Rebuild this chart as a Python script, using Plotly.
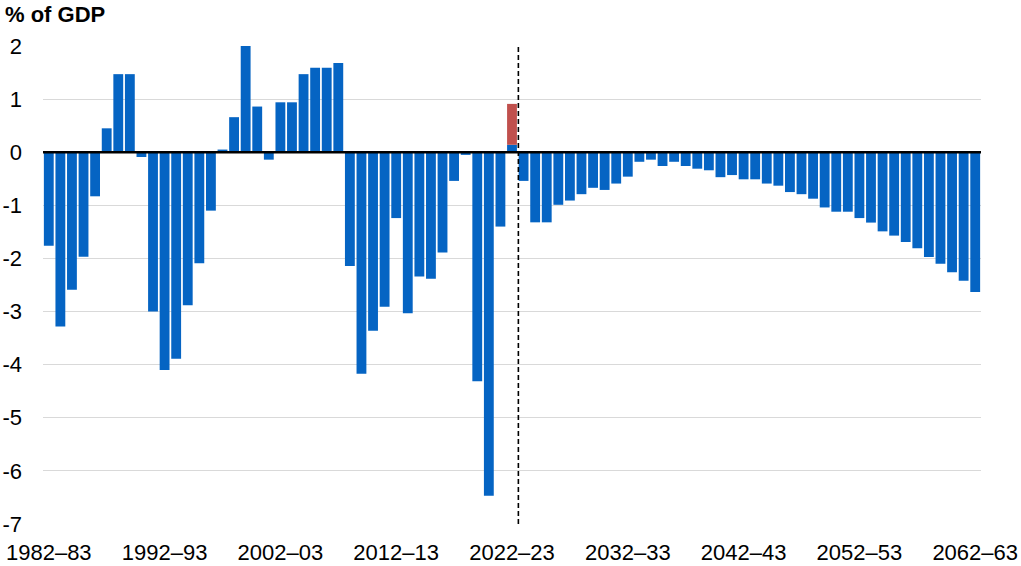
import plotly.graph_objects as go

years = [f"{y}\u2013{str(y + 1)[-2:]}" for y in range(1982, 2063)]

balance = [
    -1.76, -3.28, -2.59, -1.97, -0.83, 0.45, 1.47, 1.47, -0.09, -3.0,
    -4.1, -3.89, -2.88, -2.09, -1.1, 0.05, 0.66, 2.02, 0.86, -0.14,
    0.94, 0.94, 1.47, 1.59, 1.59, 1.68, -2.14, -4.17, -3.36, -2.91,
    -1.24, -3.03, -2.34, -2.38, -1.89, -0.54, -0.05, -4.31, -6.47, -1.4,
    0.14, -0.54, -1.32, -1.32, -0.99, -0.91, -0.79, -0.67, -0.71, -0.59,
    -0.46, -0.18, -0.14, -0.26, -0.18, -0.26, -0.31, -0.34, -0.47, -0.43,
    -0.51, -0.51, -0.59, -0.63, -0.75, -0.79, -0.875, -1.04, -1.12, -1.12,
    -1.24, -1.325, -1.49, -1.57, -1.69, -1.81, -1.975, -2.1, -2.26, -2.42,
    -2.63,
]

extra_year = ["2022\u201323"]
extra_value = [0.77]

tick_labels = ["1982\u201383", "1992\u201393", "2002\u201303", "2012\u201313",
               "2022\u201323", "2032\u201333", "2042\u201343", "2052\u201353", "2062\u201363"]
y_ticks = [2, 1, 0, -1, -2, -3, -4, -5, -6, -7]

BLUE = "#0564C3"
RED = "#C0504D"
FONT = "Liberation Sans, Arial, sans-serif"

fig = go.Figure()
fig.add_trace(go.Bar(x=years, y=balance, marker=dict(color=BLUE, line=dict(width=0)),
                     showlegend=False))
fig.add_trace(go.Bar(x=extra_year, y=extra_value, marker=dict(color=RED, line=dict(width=0)),
                     showlegend=False))

# zero line above bars
fig.add_shape(type="line", xref="paper", yref="y", x0=0, x1=1, y0=0, y1=0,
              line=dict(color="black", width=2.5), layer="above")
# dashed forecast separator
fig.add_shape(type="line", xref="x", yref="y", x0=40.55, x1=40.55, y0=-7, y1=2,
              line=dict(color="black", width=1.6, dash="5px,3px"), layer="above")

fig.update_layout(
    width=1021, height=566,
    margin=dict(l=43, r=40, t=46, b=42, autoexpand=False),
    paper_bgcolor="white", plot_bgcolor="white",
    barmode="relative", bargap=0.15,
    font=dict(family=FONT, size=22, color="black"),
    title=dict(text="<b>% of GDP</b>", xref="container", yref="container",
               x=5 / 1021, y=1 - 14 / 566, xanchor="left", yanchor="middle",
               font=dict(family=FONT, size=22, color="black")),
    xaxis=dict(type="category", categoryorder="array", categoryarray=years,
               tickmode="array", tickvals=tick_labels, ticktext=tick_labels,
               showgrid=False, zeroline=False, showline=False, ticks="",
               range=[-0.5, 80.5], tickfont=dict(size=22), ticklabelstandoff=13,
               automargin=False),
    yaxis=dict(range=[-7, 2], tickmode="array", tickvals=y_ticks,
               ticktext=[str(v) for v in y_ticks],
               showgrid=True, gridcolor="#D9D9D9", gridwidth=1,
               zeroline=False, showline=False, ticks="",
               tickfont=dict(size=22), ticklabelstandoff=20, automargin=False),
)

fig.write_html("out.html", config={"displayModeBar": False},
               post_script="document.body.style.margin='0';document.body.style.overflow='hidden';")
